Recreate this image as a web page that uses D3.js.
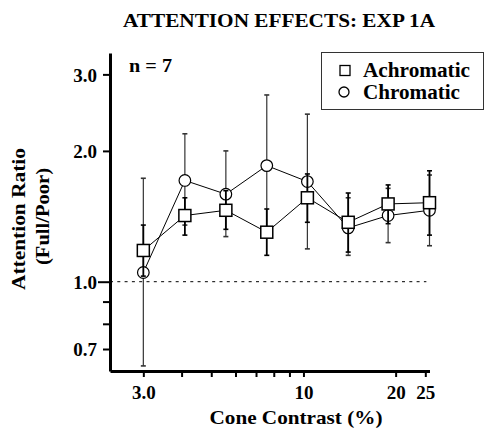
<!DOCTYPE html>
<html>
<head>
<meta charset="utf-8">
<script src="https://cdn.jsdelivr.net/npm/d3@7"></script>
<style>
  html, body { margin: 0; padding: 0; background: #fff; }
  svg { display: block; }
  text { font-family: "Liberation Serif", "Times New Roman", serif; font-weight: bold; fill: #000; }
</style>
</head>
<body>
<svg id="chart" width="484" height="429"></svg>
<script>
// Cone contrast (%) for each test condition
const contrast = [3.0, 4.1, 5.58, 7.59, 10.3, 14.0, 18.9, 25.8];

// Achromatic: attention ratio (full / poor) with error bar limits
const achroMean  = [1.18, 1.42, 1.46, 1.30, 1.56, 1.37, 1.51, 1.52];
const achroUpper = [1.35, 1.56, 1.62, 1.47, 1.77, 1.60, 1.67, 1.80];
const achroLower = [1.03, 1.28, 1.32, 1.15, 1.37, 1.17, 1.36, 1.28];

// Chromatic: attention ratio (full / poor) with error bar limits
const chromMean  = [1.05, 1.71, 1.59, 1.85, 1.70, 1.33, 1.42, 1.46];
const chromUpper = [1.73, 2.19, 2.00, 2.69, 2.43, 1.56, 1.64, 1.76];
const chromLower = [0.64, 1.35, 1.27, 1.27, 1.19, 1.15, 1.23, 1.21];

// Axis ticks
const xTicks = [3, 4, 5, 6, 7, 8, 9, 10, 20, 25];
const xTickLabels = { 3: "3.0", 10: "10", 20: "20", 25: "25" };
const yTicks = [0.7, 0.8, 0.9, 1, 2, 3];
const yTickLabels = { 0.7: "0.7", 1: "1.0", 2: "2.0", 3: "3.0" };

const svg = d3.select("#chart");

const x = d3.scaleLog().domain([2.335, 25.8]).range([110, 429.5]);
const y = d3.scaleLog().domain([0.623, 3.36]).range([371, 53]);

// Title
svg.append("text")
  .attr("x", 279).attr("y", 27)
  .attr("text-anchor", "middle")
  .attr("font-size", 18.5)
  .attr("textLength", 312).attr("lengthAdjust", "spacingAndGlyphs")
  .text("ATTENTION EFFECTS: EXP 1A");

// Reference line at ratio 1.0
svg.append("line")
  .attr("x1", 110).attr("x2", x(25.2))
  .attr("y1", y(1)).attr("y2", y(1))
  .attr("stroke", "#000").attr("stroke-width", 1)
  .attr("stroke-dasharray", "3,4.3");

// Axes
const yAxis = d3.axisLeft(y)
  .tickValues(yTicks)
  .tickFormat(d => yTickLabels[d] || "")
  .tickSize(7).tickSizeOuter(0).tickPadding(6);
const gy = svg.append("g").attr("transform", "translate(110,0)").call(yAxis);

const xAxis = d3.axisBottom(x)
  .tickValues(xTicks)
  .tickFormat(d => xTickLabels[d] || "")
  .tickSize(6).tickSizeOuter(0).tickPadding(6);
const gx = svg.append("g").attr("transform", "translate(0,371)").call(xAxis);

[gx, gy].forEach(g => {
  g.select(".domain").attr("stroke", "#000").attr("stroke-width", 3);
  g.selectAll(".tick line").attr("stroke", "#000").attr("stroke-width", 2);
  g.selectAll(".tick text").attr("font-size", 19)
    .attr("font-family", "Liberation Serif, Times New Roman, serif")
    .attr("font-weight", "bold").attr("fill", "#000");
});
gy.selectAll(".tick text").attr("dy", "0.36em");
gx.selectAll(".tick text").attr("dy", "0.85em");
// The unity tick is drawn a little longer
gy.selectAll(".tick").filter(d => d === 1).select("line").attr("x2", -12);

// Axis titles
svg.append("text")
  .attr("x", 296).attr("y", 424)
  .attr("text-anchor", "middle").attr("font-size", 19)
  .attr("textLength", 173).attr("lengthAdjust", "spacingAndGlyphs")
  .text("Cone Contrast (%)");

svg.append("text")
  .attr("transform", "translate(25,219) rotate(-90)")
  .attr("text-anchor", "middle").attr("font-size", 19)
  .attr("textLength", 142).attr("lengthAdjust", "spacingAndGlyphs")
  .text("Attention Ratio");
svg.append("text")
  .attr("transform", "translate(49,216.5) rotate(-90)")
  .attr("text-anchor", "middle").attr("font-size", 19)
  .attr("textLength", 97).attr("lengthAdjust", "spacingAndGlyphs")
  .text("(Full/Poor)");

// Sample size note
svg.append("text")
  .attr("x", 129).attr("y", 72)
  .attr("font-size", 19)
  .attr("textLength", 43).attr("lengthAdjust", "spacingAndGlyphs")
  .text("n = 7");

function rows(mean, lo, hi) {
  return contrast.map((c, i) => ({ c, m: mean[i], lo: lo[i], hi: hi[i] }));
}
const chrom = rows(chromMean, chromLower, chromUpper);
const achro = rows(achroMean, achroLower, achroUpper);

const line = d3.line().x(d => x(d.c)).y(d => y(d.m));
const capW = 2.5;

function drawSeries(data, color, bw) {
  const g = svg.append("g");
  g.append("path").datum(data).attr("d", line)
    .attr("fill", "none").attr("stroke", "#000").attr("stroke-width", 1);
  const eb = g.selectAll(".eb").data(data).enter().append("g");
  eb.append("line")
    .attr("x1", d => x(d.c)).attr("x2", d => x(d.c))
    .attr("y1", d => y(d.hi)).attr("y2", d => y(d.lo))
    .attr("stroke", color).attr("stroke-width", bw);
  eb.append("line")
    .attr("x1", d => x(d.c) - capW).attr("x2", d => x(d.c) + capW)
    .attr("y1", d => y(d.hi)).attr("y2", d => y(d.hi))
    .attr("stroke", color).attr("stroke-width", 1.6);
  eb.append("line")
    .attr("x1", d => x(d.c) - capW).attr("x2", d => x(d.c) + capW)
    .attr("y1", d => y(d.lo)).attr("y2", d => y(d.lo))
    .attr("stroke", color).attr("stroke-width", 1.6);
  return g;
}

// Chromatic series: circles
const gc = drawSeries(chrom, "#333", 1.2);
gc.selectAll("circle").data(chrom).enter().append("circle")
  .attr("cx", d => x(d.c)).attr("cy", d => y(d.m)).attr("r", 5.8)
  .attr("fill", "#fff").attr("stroke", "#000").attr("stroke-width", 1.2);

// Achromatic series: squares
const ga = drawSeries(achro, "#000", 1.8);
ga.selectAll("rect").data(achro).enter().append("rect")
  .attr("x", d => x(d.c) - 6).attr("y", d => y(d.m) - 6)
  .attr("width", 12).attr("height", 12)
  .attr("fill", "#fff").attr("stroke", "#000").attr("stroke-width", 1.5);

// Legend
const lg = svg.append("g");
lg.append("rect")
  .attr("x", 321.5).attr("y", 52.5).attr("width", 162).attr("height", 57)
  .attr("fill", "#fff").attr("stroke", "#333").attr("stroke-width", 1);
lg.append("rect")
  .attr("x", 340).attr("y", 65.5).attr("width", 10).attr("height", 10)
  .attr("fill", "#fff").attr("stroke", "#000").attr("stroke-width", 1.3);
lg.append("circle")
  .attr("cx", 344).attr("cy", 92).attr("r", 5)
  .attr("fill", "#fff").attr("stroke", "#000").attr("stroke-width", 1.3);
lg.append("text").attr("x", 363).attr("y", 77).attr("font-size", 20)
  .attr("textLength", 107).attr("lengthAdjust", "spacingAndGlyphs")
  .text("Achromatic");
lg.append("text").attr("x", 363).attr("y", 98.5).attr("font-size", 20)
  .attr("textLength", 97).attr("lengthAdjust", "spacingAndGlyphs")
  .text("Chromatic");
</script>
</body>
</html>
